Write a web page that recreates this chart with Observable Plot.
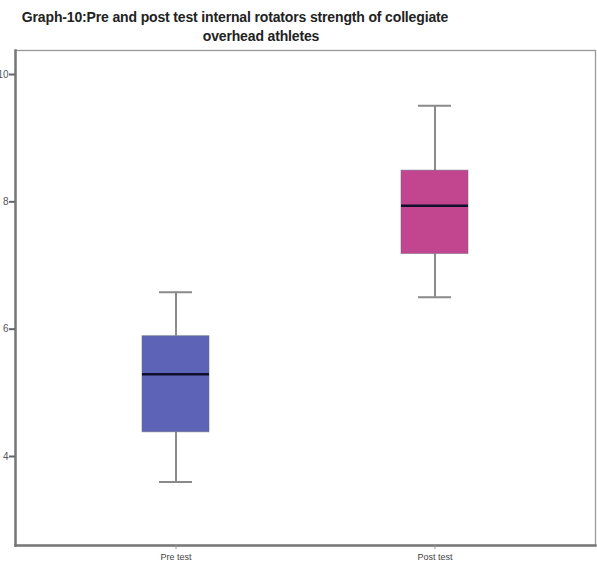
<!DOCTYPE html>
<html>
<head>
<meta charset="utf-8">
<script src="https://cdn.jsdelivr.net/npm/d3@7"></script>
<script src="https://cdn.jsdelivr.net/npm/@observablehq/plot@0.6"></script>
<style>
  body { margin: 0; background: #fff; }
  #wrap { position: relative; width: 597px; height: 571px; overflow: hidden; }
  .title {
    position: absolute; left: 0;
    font: bold 14px "Liberation Sans", Arial, sans-serif;
    letter-spacing: -0.15px; text-align: center; line-height: 17px; color: #222;
    white-space: nowrap;
  }
  #t1 { top: 9px; width: 470px; }
  #t2 { top: 28px; width: 522px; }
  #chart { position: absolute; left: 0; top: 46px; }
</style>
</head>
<body>
<div id="wrap">
  <div class="title" id="t1">Graph-10:Pre and post test internal rotators strength of collegiate</div>
  <div class="title" id="t2">overhead athletes</div>
  <div id="chart"></div>
</div>
<script>
// Box-plot summaries of internal rotator strength, pre and post test
const groups = ["Pre test", "Post test"];
const whiskerLow = [3.6, 6.5];
const q1 = [4.38, 7.18];
const median = [5.29, 7.94];
const q3 = [5.89, 8.49];
const whiskerHigh = [6.58, 9.51];
const boxColors = ["#5d63b6", "#c2468f"];
const yTicks = [4, 6, 8, 10];

const rows = groups.map((g, i) => ({
  group: g, lo: whiskerLow[i], q1: q1[i], med: median[i], q3: q3[i], hi: whiskerHigh[i], color: boxColors[i]
}));

const plot = Plot.plot({
  width: 597,
  height: 525,
  marginTop: 4,
  marginBottom: 26,
  marginLeft: 15,
  marginRight: 2,
  style: { fontFamily: "Liberation Sans, Arial, sans-serif", fontSize: "9px", color: "#444", background: "#fff" },
  x: { type: "band", domain: groups, paddingInner: 0.743, paddingOuter: 0.49, label: null },
  y: { domain: [2.602, 10.377], label: null },
  marks: [
    Plot.frame({ stroke: "#999", strokeWidth: 1.3 }),
    // heavier left and bottom axis lines
    Plot.frame({ anchor: "left", stroke: "#777", strokeWidth: 2.5 }),
    Plot.frame({ anchor: "bottom", stroke: "#777", strokeWidth: 2.5 }),
    // whiskers
    Plot.ruleX(rows, { x: "group", y1: "lo", y2: "q1", stroke: "#8a8a8a", strokeWidth: 2 }),
    Plot.ruleX(rows, { x: "group", y1: "q3", y2: "hi", stroke: "#8a8a8a", strokeWidth: 2 }),
    Plot.tickY(rows, { x: "group", y: "lo", stroke: "#8a8a8a", strokeWidth: 2, insetLeft: 17, insetRight: 17 }),
    Plot.tickY(rows, { x: "group", y: "hi", stroke: "#8a8a8a", strokeWidth: 2, insetLeft: 17, insetRight: 17 }),
    // interquartile boxes
    Plot.rectY(rows, { x: "group", y1: "q1", y2: "q3", fill: "color", stroke: "#6a6a7a", strokeOpacity: 0.5 }),
    // medians
    Plot.tickY(rows, { x: "group", y: "med", stroke: "#10102a", strokeWidth: 2.5 }),
    // axes
    Plot.axisY({ ticks: yTicks, tickSize: 6, tickPadding: 1, stroke: "#666", strokeWidth: 2, fontSize: 10, fill: "#555" }),
    Plot.axisX({ tickSize: 4, tickPadding: 4, stroke: "#999", fill: "#444", fontSize: 9 })
  ]
});
document.getElementById("chart").appendChild(plot);
</script>
</body>
</html>
